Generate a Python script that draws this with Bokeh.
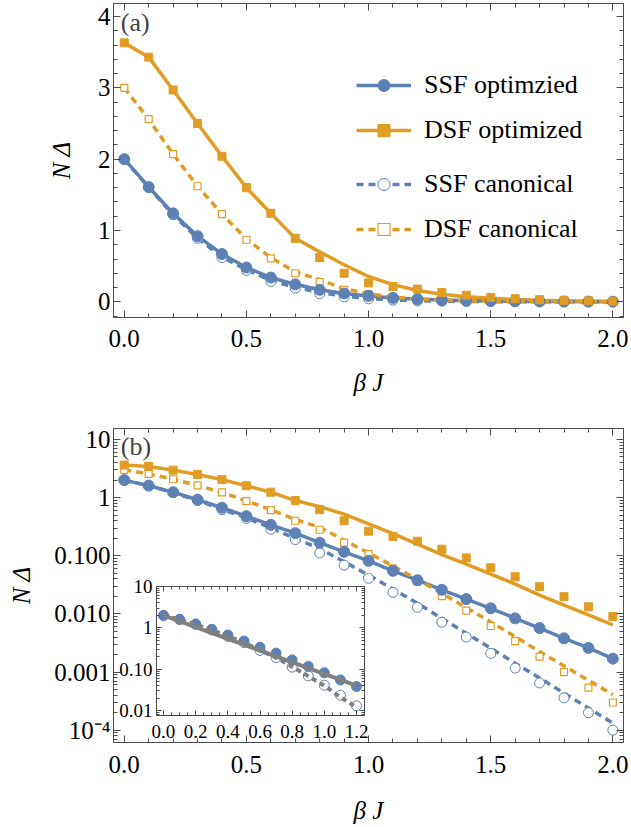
from bokeh.plotting import figure
from bokeh.models import (Range1d, LinearAxis, LogAxis, FixedTicker, Legend,
                          LegendItem, Label, PrintfTickFormatter, GridBox,
                          CustomLabelingPolicy)
from bokeh.layouts import column
from bokeh.embed import file_html
from bokeh.resources import INLINE

# ---------------- data ----------------
beta_j = [0.0, 0.1, 0.2, 0.3, 0.4, 0.5, 0.6, 0.7, 0.8, 0.9, 1.0,
          1.1, 1.2, 1.3, 1.4, 1.5, 1.6, 1.7, 1.8, 1.9, 2.0]

# markers
ssf_opt_pts = [2.0, 1.61, 1.24, 0.92, 0.67, 0.48, 0.34, 0.245, 0.168, 0.117, 0.082,
               0.055, 0.038, 0.026, 0.018, 0.0125, 0.0084, 0.0057, 0.0038, 0.0026, 0.0017]
dsf_opt_pts = [3.63, 3.43, 2.97, 2.50, 2.04, 1.60, 1.24, 0.89, 0.62, 0.40, 0.265,
               0.215, 0.178, 0.130, 0.092, 0.062, 0.0436, 0.0294, 0.0198, 0.0133, 0.009]
ssf_can_pts = [2.0, 1.60, 1.22, 0.89, 0.62, 0.44, 0.285, 0.19, 0.112, 0.069, 0.041,
               0.0235, 0.013, 0.0072, 0.0040, 0.0021, 0.00117, 0.00065, 0.00036, 0.0002, 0.0001]
dsf_can_pts = [3.0, 2.56, 2.07, 1.62, 1.23, 0.87, 0.61, 0.40, 0.28, 0.168, 0.107,
               0.0605, 0.0358, 0.0203, 0.0114, 0.0062, 0.0034, 0.00185, 0.001, 0.00054, 0.0003]

# curves
ssf_opt_curve = [2.0, 1.61, 1.24, 0.92, 0.67, 0.48, 0.34, 0.245, 0.168, 0.117, 0.082,
                 0.055, 0.038, 0.026, 0.018, 0.0125, 0.0084, 0.0057, 0.0038, 0.0026, 0.0017]
dsf_opt_curve = [3.63, 3.43, 2.97, 2.50, 2.04, 1.60, 1.24, 0.89, 0.70, 0.52, 0.355,
                 0.241, 0.158, 0.105, 0.0718, 0.0484, 0.0326, 0.0211, 0.0142, 0.0096, 0.00645]
ssf_can_curve = [2.0, 1.60, 1.22, 0.89, 0.63, 0.45, 0.30, 0.20, 0.133, 0.079, 0.0465,
                 0.0268, 0.0152, 0.0084, 0.00465, 0.00257, 0.00142, 0.00079, 0.000435, 0.00024, 0.000133]
dsf_can_curve = [3.0, 2.56, 2.07, 1.62, 1.23, 0.88, 0.62, 0.42, 0.31, 0.185, 0.112,
                 0.0664, 0.0392, 0.0226, 0.0128, 0.00726, 0.00407, 0.00225, 0.00128, 0.00072, 0.00041]

# inset
inset_x = [0.0, 0.1, 0.2, 0.3, 0.4, 0.5, 0.6, 0.7, 0.8, 0.9, 1.0, 1.1, 1.2]
inset_ssf_opt = [2.0, 1.61, 1.24, 0.92, 0.67, 0.48, 0.34, 0.245, 0.168, 0.117, 0.082, 0.055, 0.038]
inset_ssf_can = [2.0, 1.60, 1.22, 0.89, 0.62, 0.44, 0.285, 0.19, 0.112, 0.069, 0.041, 0.0235, 0.013]
inset_fit_x = [0.0, 1.2]
inset_fit_opt = [2.0, 0.04]
inset_fit_can = [2.0, 1.60, 1.22, 0.89, 0.63, 0.44, 0.29, 0.19, 0.115, 0.068, 0.040, 0.021, 0.012]

# ticks
x_major = [0.0, 0.5, 1.0, 1.5, 2.0]
x_minor = [0.1, 0.2, 0.3, 0.4, 0.6, 0.7, 0.8, 0.9, 1.1, 1.2, 1.3, 1.4,
           1.6, 1.7, 1.8, 1.9]
lin_y_major = [0, 1, 2, 3, 4]
lin_y_minor = [-0.2, 0.2, 0.4, 0.6, 0.8, 1.2, 1.4, 1.6, 1.8, 2.2, 2.4, 2.6, 2.8,
               3.2, 3.4, 3.6, 3.8]
log_major = [1e-4, 1e-3, 1e-2, 1e-1, 1.0, 10.0]
log_major_labels = ["10\u207b\u2074", "0.001", "0.010", "0.100", "1", "10"]
log_minor = [m * 10.0 ** e for e in range(-5, 2) for m in range(2, 10)]
inset_x_major = [0.0, 0.2, 0.4, 0.6, 0.8, 1.0, 1.2]
inset_x_minor = [0.05, 0.1, 0.15, 0.25, 0.3, 0.35, 0.45, 0.5, 0.55, 0.65, 0.7, 0.75,
                 0.85, 0.9, 0.95, 1.05, 1.1, 1.15]
inset_y_major = [0.01, 0.1, 1.0, 10.0]
inset_y_labels = ["0.01", "0.10", "1", "10"]

# ---------------- style ----------------
FONT = "Liberation Serif"
BLUE = "#5E81B5"
ORANGE = "#E19C24"
GRAY = "#808080"
FRAME = "#4d4d4d"
LW = 3.5
DASH = "7 5"
NO_LABELS = "for (let i = 0; i < indices.size; i++) { indices.unset(i) } return indices"


def dress(ax, ticker, labels=True, fs="25px", tick_in=7, minor_in=4, standoff=6,
          overrides=None, fmt=None):
    ax.ticker = ticker
    ax.major_tick_in = tick_in
    ax.major_tick_out = 0
    ax.minor_tick_in = minor_in
    ax.minor_tick_out = 0
    ax.axis_line_color = FRAME
    ax.major_tick_line_color = FRAME
    ax.minor_tick_line_color = FRAME
    if fmt is not None:
        ax.formatter = fmt
    if overrides:
        ax.major_label_overrides = overrides
    if labels:
        ax.major_label_text_font = FONT
        ax.major_label_text_font_size = fs
        ax.major_label_text_color = "black"
        ax.major_label_standoff = standoff
    else:
        ax.major_label_text_font_size = "1px"
        ax.major_label_text_alpha = 0
        ax.major_label_standoff = 0
        ax.major_label_policy = CustomLabelingPolicy(code=NO_LABELS)


def axis_title(ax, text, standoff):
    ax.axis_label = text
    ax.axis_label_text_font = FONT
    ax.axis_label_text_font_size = "25px"
    ax.axis_label_text_font_style = "italic"
    ax.axis_label_text_color = "black"
    ax.axis_label_standoff = standoff


def draw_series(p):
    rl = {}
    rl["ssf_opt_l"] = p.line(beta_j, ssf_opt_curve, line_color=BLUE, line_width=LW)
    rl["dsf_opt_l"] = p.line(beta_j, dsf_opt_curve, line_color=ORANGE, line_width=LW)
    rl["ssf_can_l"] = p.line(beta_j, ssf_can_curve, line_color=BLUE, line_width=LW, line_dash=DASH)
    rl["dsf_can_l"] = p.line(beta_j, dsf_can_curve, line_color=ORANGE, line_width=LW, line_dash=DASH)
    rl["ssf_can_m"] = p.scatter(beta_j, ssf_can_pts, marker="circle", size=10,
                                line_color=BLUE, fill_color="white", line_width=1)
    rl["dsf_can_m"] = p.scatter(beta_j, dsf_can_pts, marker="square", size=7,
                                line_color=ORANGE, fill_color="white", line_width=1.2)
    rl["ssf_opt_m"] = p.scatter(beta_j, ssf_opt_pts, marker="circle", size=11,
                                line_color=BLUE, fill_color=BLUE)
    rl["dsf_opt_m"] = p.scatter(beta_j, dsf_opt_pts, marker="square", size=8,
                                line_color=ORANGE, fill_color=ORANGE)
    return rl


def base_fig(height, y_range, y_type, top, bottom):
    p = figure(width=628, height=height, x_range=Range1d(-0.044, 2.0435),
               y_range=y_range, y_axis_type=y_type, output_backend="svg",
               toolbar_location=None, min_border_left=113, min_border_right=5,
               min_border_top=top, min_border_bottom=bottom)
    p.grid.visible = False
    p.outline_line_color = FRAME
    p.background_fill_color = "white"
    p.border_fill_color = "white"
    return p


# ---------------- panel (a) ----------------
p1 = base_fig(410, Range1d(-0.22, 4.182), "linear", 3, 93)
r1 = draw_series(p1)
dress(p1.xaxis[0], FixedTicker(ticks=x_major, minor_ticks=x_minor),
      fmt=PrintfTickFormatter(format="%.1f"), standoff=12)
dress(p1.yaxis[0], FixedTicker(ticks=lin_y_major, minor_ticks=lin_y_minor), standoff=3)
axis_title(p1.xaxis[0], "\u03b2 J", 19)
axis_title(p1.yaxis[0], "N \u0394", 20)
ax = LinearAxis()
dress(ax, FixedTicker(ticks=x_major, minor_ticks=x_minor), labels=False)
p1.add_layout(ax, "above")
ax = LinearAxis()
dress(ax, FixedTicker(ticks=lin_y_major, minor_ticks=lin_y_minor), labels=False)
p1.add_layout(ax, "right")

leg_kw = dict(glyph_width=55, glyph_height=30, label_height=30, label_standoff=13,
              spacing=15, padding=0, margin=0, border_line_alpha=0,
              background_fill_alpha=0, label_text_font=FONT,
              label_text_font_size="26px", label_text_color="black")
leg1 = Legend(items=[
    LegendItem(label="SSF optimzied", renderers=[r1["ssf_opt_l"], r1["ssf_opt_m"]]),
    LegendItem(label="DSF optimized", renderers=[r1["dsf_opt_l"], r1["dsf_opt_m"]]),
], location=(243, 172), **leg_kw)
leg2 = Legend(items=[
    LegendItem(label="SSF canonical", renderers=[r1["ssf_can_l"], r1["ssf_can_m"]]),
    LegendItem(label="DSF canonical", renderers=[r1["dsf_can_l"], r1["dsf_can_m"]]),
], location=(243, 73), **leg_kw)
p1.add_layout(leg1)
p1.add_layout(leg2)
p1.add_layout(Label(x=-0.014, y=3.92, text="(a)", text_font=FONT,
                    text_font_size="26px", text_baseline="middle", text_align="left"))

# ---------------- panel (b) ----------------
p2 = base_fig(416, Range1d(6.15e-5, 15.44), "log", 18, 83)
draw_series(p2)
dress(p2.xaxis[0], FixedTicker(ticks=x_major, minor_ticks=x_minor),
      fmt=PrintfTickFormatter(format="%.1f"), standoff=13)
dress(p2.yaxis[0], FixedTicker(ticks=log_major, minor_ticks=log_minor), standoff=3,
      overrides={v: s for v, s in zip(log_major, log_major_labels)})
axis_title(p2.xaxis[0], "\u03b2 J", 21)
axis_title(p2.yaxis[0], "N \u0394", 16)
ax = LinearAxis()
dress(ax, FixedTicker(ticks=x_major, minor_ticks=x_minor), labels=False)
p2.add_layout(ax, "above")
ax = LogAxis()
dress(ax, FixedTicker(ticks=log_major, minor_ticks=log_minor), labels=False)
p2.add_layout(ax, "right")
p2.add_layout(Label(x=-0.014, y=7.46, text="(b)", text_font=FONT,
                    text_font_size="26px", text_baseline="middle", text_align="left"))

# ---------------- inset ----------------
ins = figure(width=254, height=177, x_range=Range1d(-0.0435, 1.2497),
             y_range=Range1d(0.00759, 10.0), y_axis_type="log", output_backend="svg",
             toolbar_location=None, min_border_left=42, min_border_right=4,
             min_border_top=12, min_border_bottom=36)
ins.grid.visible = False
ins.outline_line_color = FRAME
ins.background_fill_alpha = 0
ins.border_fill_alpha = 0
ins.scatter(inset_x, inset_ssf_can, marker="circle", size=10, line_color=BLUE,
            fill_color="white", line_width=1)
ins.scatter(inset_x, inset_ssf_opt, marker="circle", size=10, line_color=BLUE,
            fill_color=BLUE)
ins.line(inset_x, inset_fit_can, line_color=GRAY, line_width=4, line_dash="5 4")
ins.line(inset_fit_x, inset_fit_opt, line_color=GRAY, line_width=4)
dress(ins.xaxis[0], FixedTicker(ticks=inset_x_major, minor_ticks=inset_x_minor),
      fs="19px", tick_in=5, minor_in=3, standoff=9, fmt=PrintfTickFormatter(format="%.1f"))
dress(ins.yaxis[0], FixedTicker(ticks=inset_y_major, minor_ticks=log_minor),
      fs="19px", tick_in=5, minor_in=3, standoff=4,
      overrides={v: s for v, s in zip(inset_y_major, inset_y_labels)})
ax = LinearAxis()
dress(ax, FixedTicker(ticks=inset_x_major, minor_ticks=inset_x_minor), labels=False,
      tick_in=5, minor_in=3)
ins.add_layout(ax, "above")
ax = LogAxis()
dress(ax, FixedTicker(ticks=inset_y_major, minor_ticks=log_minor), labels=False,
      tick_in=5, minor_in=3)
ins.add_layout(ax, "right")

# panel (b) with the inset overlapping it in a grid
grid = GridBox(children=[(p2, 0, 0, 3, 3), (ins, 1, 1, 1, 1)],
               rows=["164px", "177px", "75px"], cols=["114px", "254px", "260px"],
               spacing=0)

layout = column(p1, grid, spacing=0)

open("out.html", "w").write(file_html(layout, INLINE))
